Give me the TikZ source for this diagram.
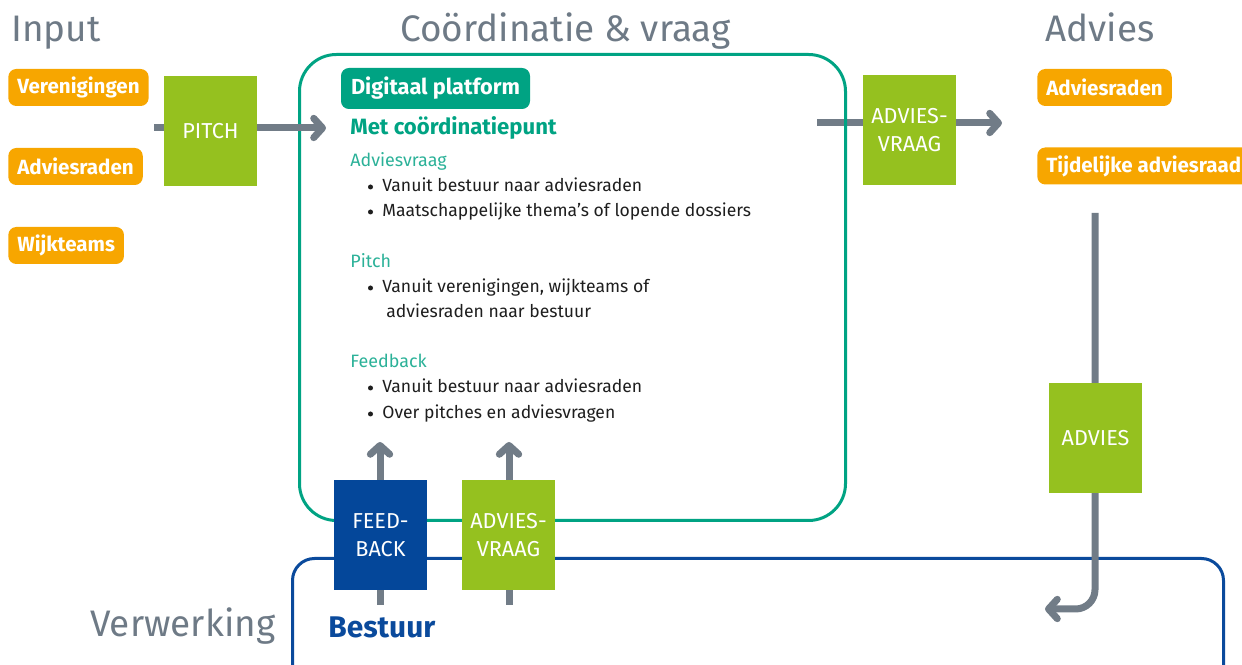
\documentclass[tikz,border=0pt]{standalone}
\usepackage{fontspec}
\setmainfont{Fira Sans}
\usetikzlibrary{arrows.meta,backgrounds}
\definecolor{orangec}{HTML}{F7A600}
\definecolor{greenc}{HTML}{95C11F}
\definecolor{bluec}{HTML}{0A4A9C}
\definecolor{bluefill}{HTML}{04479A}
\definecolor{tealc}{HTML}{00A383}
\definecolor{teallight}{HTML}{2BB198}
\definecolor{grayc}{HTML}{717C87}
\definecolor{titlegray}{HTML}{6E7A86}
\definecolor{textc}{HTML}{1E1E1E}
\def\pxu{0.02cm}
\begin{document}
\begin{tikzpicture}[x=0.02cm,y=-0.02cm,
  titletext/.style={anchor=base west, text=titlegray, font=\fontsize{21}{25}\selectfont, inner sep=0},
  orangebox/.style={fill=orangec, rounded corners=4.5pt, text=white, font=\bfseries\fontsize{11.7}{14}\selectfont, minimum height=37*\pxu, inner xsep=9*\pxu, inner ysep=0, anchor=west},
  greenbox/.style={fill=greenc, text=white, minimum width=93*\pxu, minimum height=110*\pxu, align=center, font=\fontsize{12.3}{16}\selectfont, inner sep=0},
  bluebox/.style={greenbox, fill=bluefill},
  flowarrow/.style={draw=grayc, line width=7*\pxu, -{Straight Barb[round, length=5pt, width=11pt]}},
  bodytext/.style={anchor=base west, text=textc, font=\fontsize{10}{12}\selectfont, inner sep=0},
  subhead/.style={anchor=base west, text=teallight, font=\fontsize{10.2}{12}\selectfont, inner sep=0},
  bulletmark/.style={circle, fill=textc, minimum size=5*\pxu, inner sep=0}
]
\useasboundingbox (0,0) rectangle (1242,665);

% titles
\node[titletext] (tinput) at (11,42) {Input};
\node[titletext] (tcoord) at (400,42) {Coördinatie \& vraag};
\node[titletext] (tadvies) at (1045,42) {Advies};
\node[titletext] (tverw) at (90,637) {Verwerking};

% coordinates for connectors
\coordinate (pitchin) at (154,128);
\coordinate (pitchout) at (326,128);
\coordinate (avin) at (817,123);
\coordinate (avout) at (1002,123);
\coordinate (advtop) at (1095,213);
\coordinate (advend) at (1045,609);
\coordinate (fbin) at (380,605);
\coordinate (fbout) at (380,442);
\coordinate (avbin) at (509,605);
\coordinate (avbout) at (509,442);

% arrow under the platform frame
\draw[flowarrow] (avin) -- (avout);

% frames
\node[draw=tealc, line width=3*\pxu, rounded corners=21pt, minimum width=546*\pxu, minimum height=466*\pxu, anchor=north west, inner sep=0] (platform) at (298,53) {};
\node[draw=bluec, line width=3*\pxu, rounded corners=12.5pt, minimum width=931*\pxu, minimum height=160*\pxu, anchor=north west, inner sep=0] (bestuurbox) at (291,557) {};

% other arrows
\draw[flowarrow] (pitchin) -- (pitchout);
\draw[flowarrow, rounded corners=11pt] (advtop) |- (advend);
\draw[flowarrow] (fbin) -- (fbout);
\draw[flowarrow] (avbin) -- (avbout);

% orange boxes
\node[orangebox] (ver) at (8,87.5) {Verenigingen};
\node[orangebox] (adr) at (8,166.5) {Adviesraden};
\node[orangebox] (wijk) at (8,245.5) {Wijkteams};
\node[orangebox] (adr2) at (1037,87.5) {Adviesraden};
\node[orangebox] (tijd) at (1037,166) {Tijdelijke adviesraad};

% green / blue boxes
\node[greenbox] (pitch) at (210.5,131) {PITCH};
\node[greenbox] (avtop) at (909.5,130.5) {ADVIES-\\VRAAG};
\node[greenbox] (advies) at (1095.5,438) {ADVIES};
\node[bluebox] (feedback) at (380.5,535) {FEED-\\BACK};
\node[greenbox] (avbot) at (508.5,535) {ADVIES-\\VRAAG};

% platform content
\node[fill=tealc, rounded corners=4.5pt, text=white, font=\bfseries\fontsize{12.4}{14}\selectfont, minimum width=189*\pxu, minimum height=41*\pxu, inner sep=0] (digi) at (435.5,88.5) {Digitaal platform};
\node[anchor=base west, text=tealc, font=\bfseries\fontsize{12.6}{14}\selectfont, inner sep=0] (met) at (350,135) {Met coördinatiepunt};

\node[subhead] (h1) at (350,167) {Adviesvraag};
\node[bulletmark] (b1) at (370.5,187) {};
\node[bodytext] (t1) at (382,192) {Vanuit bestuur naar adviesraden};
\node[bulletmark] (b2) at (370.5,212) {};
\node[bodytext] (t2) at (382,217) {Maatschappelijke thema’s of lopende dossiers};

\node[subhead] (h2) at (350,268) {Pitch};
\node[bulletmark] (b3) at (370.5,288) {};
\node[bodytext] (t3) at (382,293) {Vanuit verenigingen, wijkteams of};
\node[bodytext] (t4) at (386,318) {adviesraden naar bestuur};

\node[subhead] (h3) at (350,368) {Feedback};
\node[bulletmark] (b5) at (370.5,388) {};
\node[bodytext] (t5) at (382,393) {Vanuit bestuur naar adviesraden};
\node[bulletmark] (b6) at (370.5,414) {};
\node[bodytext] (t6) at (382,419) {Over pitches en adviesvragen};

\node[anchor=base west, text=bluec, font=\bfseries\fontsize{17}{20}\selectfont, inner sep=0] (bestuur) at (328,638) {Bestuur};
\end{tikzpicture}
\end{document}
